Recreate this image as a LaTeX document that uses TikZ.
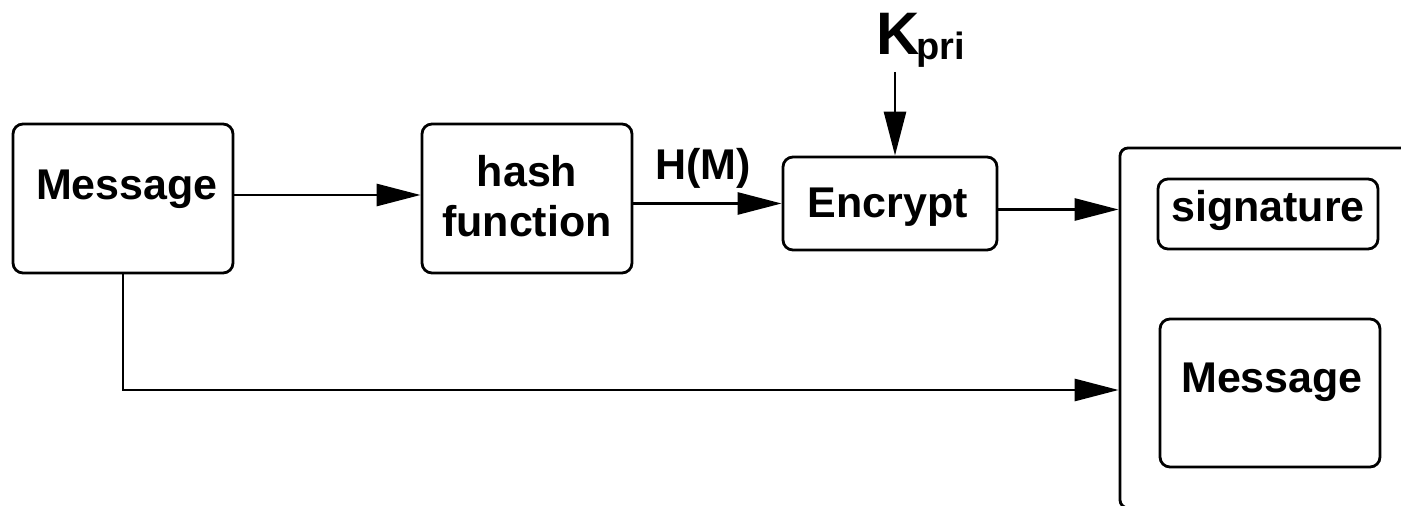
\documentclass[tikz,border=0pt]{standalone}
\usepackage{fontspec}
\setmainfont{Liberation Sans}
\usetikzlibrary{arrows.meta}
\begin{document}
\begin{tikzpicture}[x=0.5pt,y=-0.5pt,
  box/.style={draw,line width=1.4pt,rounded corners=5pt,inner sep=0pt},
  txt/.style={font=\fontsize{21.5}{25}\selectfont\bfseries,inner sep=0pt,align=center},
  arr/.style={line width=1.4pt,-{Triangle[length=22pt,width=11pt]}}]
\useasboundingbox (0,0) rectangle (1401,506);
% boxes
\node[box,minimum width=110pt,minimum height=74.5pt] (m1) at (123,198.5) {};
\node[box,minimum width=105pt,minimum height=74.5pt] (hash) at (527,198.5) {};
\node[box,minimum width=107pt,minimum height=46.5pt] (enc) at (890,203.5) {};
\node[box,minimum width=110pt,minimum height=35pt] (sig) at (1268,214) {};
\node[box,minimum width=110pt,minimum height=74pt] (m2) at (1270,393) {};
\begin{scope}
\clip (0,0) rectangle (1401,506);
\node[box,rounded corners=4pt,minimum width=160pt,minimum height=180pt] (big) at (1280,328) {};
\end{scope}
% texts
\node[txt,anchor=base] (t1) at (127,200) {Message};
\node[txt,anchor=north] (t2) at (527,155) {hash\\function};
\node[txt,anchor=base] (t3) at (888,218) {Encrypt};
\node[txt,anchor=base] (t4) at (1268,222) {signature};
\node[txt,anchor=base] (t5) at (1272,393) {Message};
\node[txt,anchor=base] (hm) at (703,180) {H(M)};
\node[inner sep=0pt,anchor=base west,font=\bfseries] (kp) at (876,55)
  {\fontsize{30}{34}\selectfont K\kern-1.5pt\raisebox{-2.5pt}{\fontsize{19}{22}\selectfont pri}};
% connectors
\coordinate (ks) at (895,72);
\coordinate (bend) at (123,390);
\draw[arr] ([yshift=1.75pt]m1.east) -- ([yshift=1.75pt]hash.west);
\draw[arr] (hash.east |- enc.west) -- (enc.west);
\draw[arr] ([yshift=-3pt]enc.east) -- ([yshift=-3pt]enc.east -| big.west);
\draw[arr] (ks) -- (ks |- enc.north);
\draw[arr] (m1.south) -- (bend) -- (bend -| big.west);
\end{tikzpicture}
\end{document}
